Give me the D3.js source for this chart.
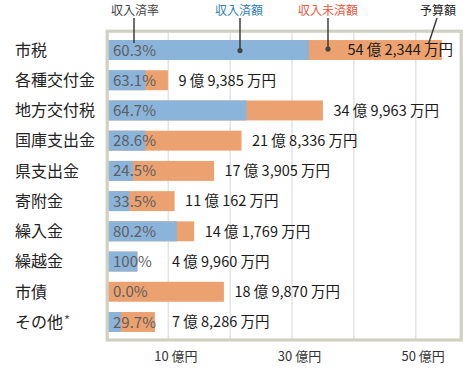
<!DOCTYPE html>
<html><head><meta charset="utf-8">
<script src="https://cdn.jsdelivr.net/npm/d3@7"></script>
<style>body{margin:0;background:#fff}svg{display:block}text{font-family:"Noto Sans CJK JP","Noto Sans",sans-serif}</style>
</head><body>
<script>
const categories = ["市税","各種交付金","地方交付税","国庫支出金","県支出金","寄附金","繰入金","繰越金","市債","その他"];
const categoryNotes = ["","","","","","","","","","*"];
const budgetMan = [542344, 99385, 349963, 218336, 173905, 110162, 141769, 49960, 189870, 78286]; // 予算額 (万円)
const rates = [60.3, 63.1, 64.7, 28.6, 24.5, 33.5, 80.2, 100, 0.0, 29.7]; // 収入済率 (%)
const tickValues = [10, 30, 50];
const tickUnit = " 億円";
const legendLabels = ["収入済率","収入済額","収入未済額","予算額"];

const W = 471, H = 368;
const svg = d3.select("body").append("svg").attr("width", W).attr("height", H);
const x = d3.scaleLinear().domain([0, 50]).range([106.5, 415.7]);
const y = d3.scaleBand().domain(categories).range([34.9, 337.1]).paddingInner(0.34).paddingOuter(0.17);

const frame = {l: 107.2, r: 461.2, t: 31.2, b: 340};
const blue = "#8ab4da", orange = "#eca270";

// gridlines
svg.append("g").selectAll("line").data(d3.range(10, 51, 10)).join("line")
  .attr("x1", d => x(d)).attr("x2", d => x(d))
  .attr("y1", frame.t).attr("y2", frame.b)
  .attr("stroke", "#e3e3e3").attr("stroke-width", 1.5);

const data = categories.map((c, i) => ({c, note: categoryNotes[i], total: budgetMan[i] / 10000, rate: rates[i], man: budgetMan[i]}));

// bars
const g = svg.append("g");
g.selectAll("rect.total").data(data).join("rect").attr("class", "total")
  .attr("x", x(0)).attr("y", d => y(d.c))
  .attr("width", d => x(d.total) - x(0)).attr("height", y.bandwidth())
  .attr("fill", orange);
g.selectAll("rect.paid").data(data).join("rect").attr("class", "paid")
  .attr("x", x(0)).attr("y", d => y(d.c))
  .attr("width", d => x(d.total * d.rate / 100) - x(0)).attr("height", y.bandwidth())
  .attr("fill", blue);

// frame
svg.append("rect").attr("x", frame.l).attr("y", frame.t)
  .attr("width", frame.r - frame.l).attr("height", frame.b - frame.t)
  .attr("fill", "none").attr("stroke", "#d0d0c3").attr("stroke-width", 3.2);

// category labels
const cl = svg.append("g").selectAll("text").data(data).join("text")
  .attr("x", 15).attr("y", d => y(d.c) + y.bandwidth() / 2)
  .attr("dy", "0.36em").attr("font-size", 16).attr("fill", "#222");
cl.append("tspan").text(d => d.c);
cl.filter(d => d.note).append("tspan").attr("font-size", 13).attr("dy", -3).attr("dx", 1)
  .attr("fill", "#555").text(d => d.note);

// rate labels
svg.append("g").selectAll("text").data(data).join("text")
  .attr("x", 113).attr("y", d => y(d.c) + y.bandwidth() / 2)
  .attr("dy", "0.37em").attr("font-size", 15).attr("fill", "#5e5e5e")
  .text(d => (d.rate === 100 ? "100" : d.rate.toFixed(1)) + "%");

// value labels
const fmtMan = m => {
  const oku = Math.floor(m / 10000), rest = m % 10000;
  return oku + " 億 " + d3.format(",")(rest) + " 万円";
};
const labelX = d => Math.max(x(d.total) + 10.5, 172);
svg.append("g").selectAll("text").data(data).join("text")
  .attr("x", d => labelX(d) + 95 > 455 ? 453 : labelX(d))
  .attr("text-anchor", d => labelX(d) + 95 > 455 ? "end" : "start")
  .attr("y", d => y(d.c) + y.bandwidth() / 2)
  .attr("dy", "0.37em").attr("font-size", 14.5).attr("fill", "#1a1a1a")
  .text(d => fmtMan(d.man));

// x axis
const axis = svg.append("g").attr("transform", `translate(7,${frame.b + 2})`)
  .call(d3.axisBottom(x).tickValues(tickValues).tickSize(0).tickPadding(10).tickFormat(d => d + tickUnit));
axis.select(".domain").remove();
axis.selectAll("text").attr("font-size", 13).attr("fill", "#333")
  .style("font-family", '"Noto Sans CJK JP","Noto Sans",sans-serif');

// annotations
const first = data[0];
const by = y(first.c);
const ann = [
  {t: legendLabels[0], color: "#444", tx: 135, x1: 134, y1: 18, x2: 134, y2: 43, dot: false},
  {t: legendLabels[1], color: "#2f7fb3", tx: 239, x1: 240, y1: 18, x2: 240, y2: by + 10.5, dot: true},
  {t: legendLabels[2], color: "#e6583e", tx: 328, x1: 328, y1: 18, x2: 328, y2: by + 9, dot: true},
  {t: legendLabels[3], color: "#222", tx: 438, x1: 437, y1: 18, x2: 428.5, y2: 44, dot: false}
];
const ag = svg.append("g");
ag.selectAll("text").data(ann).join("text")
  .attr("x", d => d.tx).attr("y", 14.5).attr("text-anchor", "middle")
  .attr("font-size", 12).attr("fill", d => d.color).text(d => d.t);
ag.selectAll("line").data(ann).join("line")
  .attr("x1", d => d.x1).attr("y1", d => d.y1).attr("x2", d => d.x2).attr("y2", d => d.y2)
  .attr("stroke", "#333").attr("stroke-width", 1.4);
ag.selectAll("circle").data(ann.filter(d => d.dot)).join("circle")
  .attr("cx", d => d.x2).attr("cy", d => d.y2).attr("r", 2.6).attr("fill", "#444");
</script>
</body></html>
